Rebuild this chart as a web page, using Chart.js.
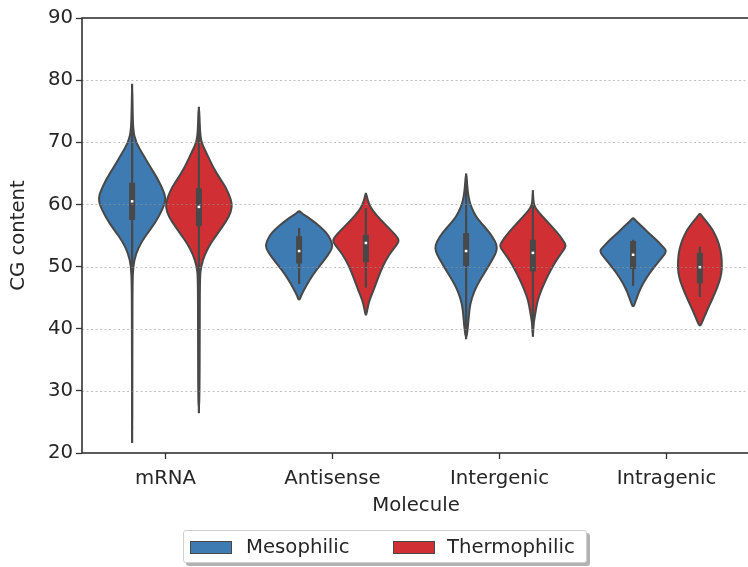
<!DOCTYPE html>
<html>
<head>
<meta charset="utf-8">
<script src="https://cdn.jsdelivr.net/npm/chart.js@4.4.1/dist/chart.umd.min.js"></script>
<style>
  html, body { margin: 0; padding: 0; background: #fff; overflow: hidden; }
  #wrap { position: relative; width: 748px; height: 567px; overflow: hidden; }
  #grafico { position: absolute; left: 0; top: 0; }
  .legend { position: absolute; left: 183px; top: 530px; width: 404px; height: 33px; box-sizing: border-box;
    border: 1px solid #cfcfcf; border-radius: 3px; background: #fff; box-shadow: 3px 3px 0 rgba(0,0,0,0.3);
    font: 19.7px "DejaVu Sans", sans-serif; color: #262626; }
  .patch { position: absolute; top: 10px; width: 42px; height: 13px; box-sizing: border-box; border: 1px solid #484848; }
  .lbl { position: absolute; top: 5px; line-height: 22px; white-space: nowrap; }
</style>
</head>
<body>
<div id="wrap">
  <canvas id="grafico" width="752" height="567"></canvas>
  <div class="legend">
    <div class="patch" style="left:6px; background:#3e7bb3"></div>
    <div class="lbl" style="left:62px">Mesophilic</div>
    <div class="patch" style="left:209px; background:#d02f33"></div>
    <div class="lbl" style="left:263px">Thermophilic</div>
  </div>
</div>
<script>
const categories = ['mRNA', 'Antisense', 'Intergenic', 'Intragenic']
const yTicks = [20, 30, 40, 50, 60, 70, 80, 90]

// inner box stats
const mesoLow = [21.6, 47.2, 38.3, 46.9]
const mesoQ1 = [57.5, 50.5, 50.1, 49.6]
const mesoMedian = [60.5, 52.5, 52.5, 51.9]
const mesoQ3 = [63.5, 54.9, 55.4, 54.1]
const mesoHigh = [79.4, 56.2, 65.0, 54.3]

const thermoLow = [26.4, 46.6, 38.7, 45.1]
const thermoQ1 = [56.5, 50.7, 49.2, 47.3]
const thermoMedian = [59.6, 53.8, 52.2, 49.9]
const thermoQ3 = [62.6, 55.1, 54.3, 52.2]
const thermoHigh = [75.7, 59.4, 62.3, 53.2]

// violin outlines: CG levels and relative half widths (1 = full violin width)
const mesoLevels = [
    [79.4, 76, 72, 70, 68, 66, 64, 62, 61, 60, 58, 56, 54, 52, 50, 47, 40, 30, 21.6],
    [59, 58.5, 57.8, 57, 56, 55, 54, 53.3, 52.5, 51, 49.5, 48, 46.5, 45.3, 44.5],
    [65, 64, 62, 60.5, 59.5, 58, 57, 55.5, 54, 53, 52, 50.5, 49, 47.5, 46, 44, 42, 40, 38.3],
    [57.9, 57.4, 56.8, 56, 55, 54, 53, 52.5, 51.8, 50.5, 49, 47.5, 46, 44.5, 43.3]
]
const mesoWidths = [
    [0, 0.01, 0.03, 0.11, 0.33, 0.55, 0.78, 0.95, 1.0, 0.97, 0.8, 0.55, 0.28, 0.11, 0.03, 0.01, 0.005, 0.003, 0],
    [0, 0.1, 0.3, 0.5, 0.72, 0.88, 0.97, 1.0, 0.95, 0.75, 0.52, 0.33, 0.17, 0.06, 0],
    [0, 0.02, 0.05, 0.1, 0.16, 0.3, 0.45, 0.7, 0.88, 0.93, 0.88, 0.72, 0.55, 0.38, 0.24, 0.12, 0.08, 0.05, 0],
    [0, 0.08, 0.2, 0.35, 0.55, 0.75, 0.93, 1.0, 0.92, 0.72, 0.5, 0.32, 0.18, 0.08, 0]
]
const thermoLevels = [
    [75.7, 74, 72, 70, 68.8, 66, 64, 62.8, 61, 59.6, 58, 56.4, 55, 53.8, 52, 50, 48, 40, 30, 26.4],
    [62, 61, 60, 59, 57.5, 56, 55, 54.2, 53.3, 52, 50, 48, 46.2, 44.5, 43, 42],
    [62.3, 61, 60, 59.2, 58, 57, 56, 55, 54, 53.3, 52.5, 51, 49.5, 48, 46.2, 44.5, 43, 41.5, 40.5, 38.7],
    [58.6, 58, 57, 56, 55, 53.5, 52, 50.5, 49, 47.5, 46, 44.5, 43, 41.5, 40.2]
]
const thermoWidths = [
    [0, 0.02, 0.03, 0.07, 0.18, 0.42, 0.65, 0.8, 0.95, 1.0, 0.9, 0.7, 0.52, 0.36, 0.18, 0.06, 0.03, 0.025, 0.02, 0],
    [0, 0.04, 0.1, 0.2, 0.45, 0.72, 0.9, 1.0, 0.9, 0.7, 0.5, 0.35, 0.23, 0.1, 0.04, 0],
    [0, 0.01, 0.03, 0.1, 0.3, 0.47, 0.64, 0.8, 0.93, 1.0, 0.9, 0.7, 0.54, 0.4, 0.25, 0.14, 0.09, 0.04, 0.02, 0],
    [0, 0.08, 0.23, 0.37, 0.47, 0.58, 0.64, 0.66, 0.65, 0.58, 0.47, 0.35, 0.22, 0.1, 0]
]

const mesoColor = '#3e7bb3'
const thermoColor = '#d02f33'
const gray = '#484848'
const textColor = '#262626'
const font = { family: 'DejaVu Sans', size: 19.7 }

const pairs = (a, b) => a.map((v, i) => [v, b[i]])
const dots = (m) => m.map(v => [v - 0.2, v + 0.2])

const violins = {
    id: 'violins',
    beforeDatasetsDraw(chart) {
        const { ctx, scales: { x, y } } = chart
        const half = (x.getPixelForValue(1) - x.getPixelForValue(0)) * 0.2
        const sets = [
            [mesoLevels, mesoWidths, mesoColor, 1],
            [thermoLevels, thermoWidths, thermoColor, 4]
        ]
        sets.forEach(([levels, widths, color, metaIdx]) => {
            const meta = chart.getDatasetMeta(metaIdx)
            levels.forEach((lv, i) => {
                const cx = meta.data[i].x
                const right = lv.map((v, k) => [cx + widths[i][k] * half, y.getPixelForValue(v)])
                const left = lv.map((v, k) => [cx - widths[i][k] * half, y.getPixelForValue(v)]).slice(1, -1).reverse()
                const pts = right.concat(left)
                const n = pts.length
                const mid = (a, b) => [(a[0] + b[0]) / 2, (a[1] + b[1]) / 2]
                ctx.save()
                ctx.beginPath()
                const start = mid(pts[n - 1], pts[0])
                ctx.moveTo(start[0], start[1])
                for (let k = 0; k < n; k++) {
                    const m = mid(pts[k], pts[(k + 1) % n])
                    ctx.quadraticCurveTo(pts[k][0], pts[k][1], m[0], m[1])
                }
                ctx.closePath()
                ctx.fillStyle = color
                ctx.fill()
                ctx.lineWidth = 2
                ctx.lineJoin = 'round'
                ctx.strokeStyle = gray
                ctx.stroke()
                ctx.restore()
            })
        })
    },
    afterDatasetsDraw(chart) {
        const { ctx, chartArea: a, scales: { y } } = chart
        ctx.save()
        ctx.strokeStyle = 'rgba(150,150,150,0.6)'
        ctx.lineWidth = 1
        ctx.setLineDash([2, 2.5])
        yTicks.slice(1, -1).forEach(v => {
            const py = Math.round(y.getPixelForValue(v)) + 0.5
            ctx.beginPath()
            ctx.moveTo(a.left, py)
            ctx.lineTo(a.right, py)
            ctx.stroke()
        })
        ctx.restore()
    },
    afterDraw(chart) {
        const { ctx, chartArea: a } = chart
        ctx.save()
        ctx.strokeStyle = '#333'
        ctx.lineWidth = 1.6
        ctx.strokeRect(a.left, a.top, a.right - a.left, a.bottom - a.top)
        ctx.restore()
    }
}

const ctx = document.getElementById('grafico')

new Chart(ctx, {
    type: 'bar',
    data: {
        labels: categories,
        datasets: [
            { label: 'Mesophilic', stack: 'meso', data: pairs(mesoLow, mesoHigh), backgroundColor: gray, maxBarThickness: 2.2, order: 3 },
            { label: 'Mesophilic', stack: 'meso', data: pairs(mesoQ1, mesoQ3), backgroundColor: gray, maxBarThickness: 6, order: 2 },
            { label: 'Mesophilic', stack: 'meso', data: dots(mesoMedian), backgroundColor: '#ffffff', maxBarThickness: 2.6, order: 1 },
            { label: 'Thermophilic', stack: 'thermo', data: pairs(thermoLow, thermoHigh), backgroundColor: gray, maxBarThickness: 2.2, order: 3 },
            { label: 'Thermophilic', stack: 'thermo', data: pairs(thermoQ1, thermoQ3), backgroundColor: gray, maxBarThickness: 6, order: 2 },
            { label: 'Thermophilic', stack: 'thermo', data: dots(thermoMedian), backgroundColor: '#ffffff', maxBarThickness: 2.6, order: 1 }
        ]
    },
    options: {
        responsive: false,
        animation: false,
        events: [],
        datasets: { bar: { categoryPercentage: 0.8, barPercentage: 1, borderWidth: 0 } },
        layout: { padding: { top: 18, right: 2, left: 0, bottom: 44 } },
        plugins: {
            legend: { display: false },
            tooltip: { enabled: false }
        },
        scales: {
            x: {
                stacked: true,
                grid: { display: true, drawOnChartArea: false, offset: false, tickLength: 6, tickColor: '#333', tickWidth: 1.3 },
                border: { display: false },
                ticks: { color: textColor, font: font, padding: 8, maxRotation: 0 },
                title: { display: true, text: 'Molecule', color: textColor, font: font, padding: { top: 0, bottom: 5.6 } },
                afterFit: (s) => { s.height = 70 }
            },
            y: {
                stacked: false,
                min: 20,
                max: 90,
                afterBuildTicks: (s) => { s.ticks = yTicks.map(v => ({ value: v })) },
                grid: { display: true, drawOnChartArea: false, tickLength: 6, tickColor: '#333', tickWidth: 1.3 },
                border: { display: false },
                ticks: { color: textColor, font: font, padding: 3 },
                title: { display: true, text: 'CG content', color: textColor, font: font, padding: { top: 6.6, bottom: 0 } },
                afterFit: (s) => { s.width = 82 }
            }
        }
    },
    plugins: [violins]
})
</script>
</body>
</html>
